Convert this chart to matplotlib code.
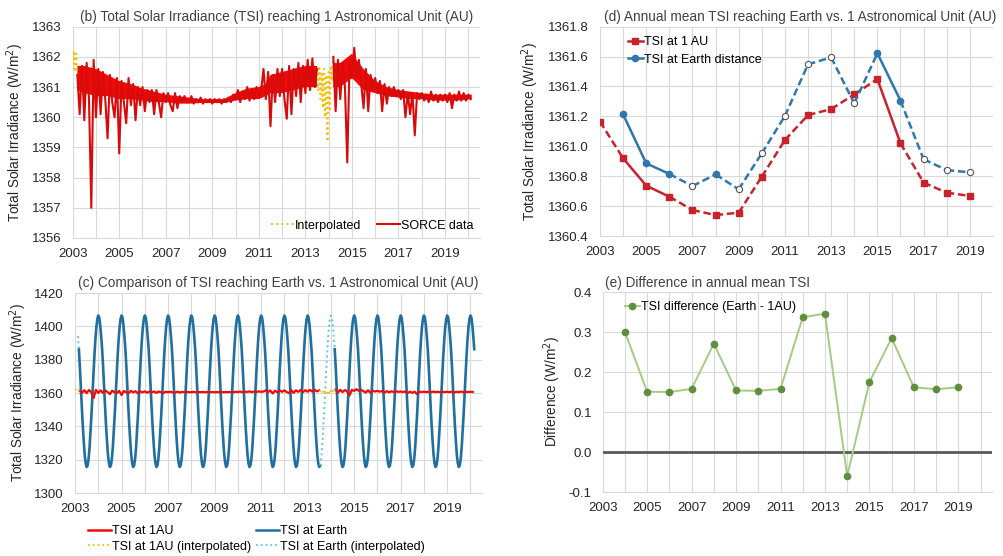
import numpy as np
import matplotlib.pyplot as plt
from matplotlib.lines import Line2D

plt.rcParams['font.family'] = ['Liberation Sans', 'DejaVu Sans']
plt.rcParams['axes.unicode_minus'] = False

# (b)/(c) SORCE TSI at 1 AU (W/m2), read every 0.1 yr starting at 2003.2, nan = data gap
sorce_start = 2003.2
sorce_tsi = [
    1361.4, 1360.1, 1361.7, 1359.9, 1361.8, 1360.6, 1357.0, 1361.9,
    1360.0, 1361.6, 1360.1, 1361.5, 1360.6, 1359.3, 1361.4, 1360.5, 1360.0, 1361.3,
    1358.8, 1361.2, 1360.5, 1359.8, 1361.3, 1360.4, 1361.1, 1359.9, 1361.0, 1360.4,
    1361.0, 1360.2, 1360.9, 1360.5, 1360.9, 1360.1, 1360.9, 1360.5, 1360.0, 1360.8,
    1360.5, 1360.8, 1360.4, 1360.2, 1360.8, 1360.3, 1360.7, 1360.5, 1360.7, 1360.5,
    1360.5, 1360.7, 1360.45, 1360.6, 1360.5, 1360.65, 1360.45, 1360.6, 1360.5, 1360.6,
    1360.45, 1360.6, 1360.5, 1360.6, 1360.45, 1360.6, 1360.5, 1360.65, 1360.5, 1360.75,
    1360.6, 1360.9, 1360.5, 1360.85, 1360.6, 1361.0, 1360.55, 1360.9, 1360.6, 1361.0,
    1360.7, 1360.9, 1361.6, 1360.6, 1361.5, 1359.7, 1361.4, 1360.5, 1361.6, 1360.7,
    1361.6, 1360.6, 1359.95, 1361.7, 1360.1, 1361.6, 1360.7, 1361.8, 1360.5, 1361.7,
    1360.8, 1361.9, 1360.9, 1361.95, 1361.0, 1361.6, np.nan, np.nan, np.nan, np.nan,
    np.nan, np.nan, 1362.0, 1360.2, 1361.9, 1360.6, 1361.8, 1361.0, 1358.5, 1361.9,
    1361.3, 1362.3, 1361.3, 1361.9, 1361.1, 1360.3, 1361.6, 1360.2, 1361.4, 1360.9,
    1361.3, 1360.8, 1361.2, 1360.2, 1361.1, 1360.45, 1361.0, 1360.7, 1361.0, 1360.7,
    1360.9, 1360.6, 1360.9, 1360.0, 1360.8, 1360.1, 1360.8, 1359.4, 1360.8, 1360.6,
    1360.8, 1360.55, 1360.75, 1360.5, 1360.85, 1360.55, 1360.75, 1360.5, 1360.75, 1360.55,
    1360.75, 1360.5, 1360.8, 1360.3, 1360.75, 1360.55, 1360.85, 1360.55, 1360.8, 1360.55,
    1360.75, 1360.6,
]

# dense core of the daily SORCE series (read as lower / upper edge of the red band)
band_t = [2003.2, 2003.5, 2004.0, 2004.5, 2005.0, 2005.5, 2006.0, 2006.5, 2007.0, 2007.5,
          2008.0, 2008.5, 2009.0, 2009.5, 2010.0, 2010.5, 2011.0, 2011.3, 2011.5, 2012.0,
          2012.5, 2013.0, 2013.5, 2013.8, 2014.2, 2014.5, 2015.0, 2015.5, 2016.0, 2016.5,
          2017.0, 2017.5, 2018.0, 2018.5, 2019.0, 2019.5, 2020.15]
band_lo = [1360.9, 1360.8, 1360.7, 1360.7, 1360.6, 1360.6, 1360.55, 1360.5, 1360.5, 1360.45,
           1360.45, 1360.47, 1360.47, 1360.47, 1360.55, 1360.6, 1360.6, 1360.7, 1360.8, 1360.8,
           1360.9, 1361.0, 1361.0, np.nan, 1361.0, 1361.0, 1361.3, 1360.9, 1360.8, 1360.7,
           1360.65, 1360.6, 1360.6, 1360.55, 1360.55, 1360.55, 1360.6]
band_hi = [1361.7, 1361.7, 1361.6, 1361.4, 1361.2, 1361.1, 1360.95, 1360.85, 1360.75, 1360.7,
           1360.65, 1360.6, 1360.6, 1360.6, 1360.8, 1360.95, 1361.0, 1361.1, 1361.4, 1361.5,
           1361.6, 1361.7, 1361.7, np.nan, 1361.8, 1361.8, 1362.1, 1361.6, 1361.2, 1361.0,
           1360.9, 1360.85, 1360.8, 1360.75, 1360.75, 1360.75, 1360.75]

# interpolated pieces of the 1 AU series
interp_t = [2003.0, 2003.05, 2003.1, 2003.15, 2003.2, np.nan,
            2013.5, 2013.55, 2013.6, 2013.65, 2013.7, 2013.75, 2013.8, 2013.85,
            2013.9, 2013.95, 2014.0, 2014.05, 2014.1, 2014.15, 2014.2]
interp_v = [1361.6, 1362.2, 1361.5, 1362.1, 1361.4, np.nan,
            1361.6, 1360.9, 1361.7, 1360.6, 1361.5, 1360.3, 1361.6, 1360.0,
            1361.4, 1359.2, 1361.5, 1360.2, 1361.7, 1361.2, 1362.0]

# TSI at Earth distance through one year (1st and 16th of each month)
earth_profile = [1406.5, 1405.4, 1400.9, 1394.1, 1386.3, 1375.8, 1363.6, 1351.9,
                 1340.8, 1331.2, 1323.0, 1317.9, 1315.6, 1316.5, 1320.4, 1327.1,
                 1336.6, 1347.1, 1358.7, 1370.4, 1382.1, 1391.7, 1399.3, 1404.3]
earth_first = 2003.12
earth_last = 2020.17
earth_gaps = [(2003.0, 2003.15), (2013.55, 2014.13)]

# (d) annual means
years_au = list(range(2003, 2020))
tsi_au_annual = [1361.165, 1360.92, 1360.737, 1360.663, 1360.574, 1360.54, 1360.556,
                 1360.797, 1361.042, 1361.209, 1361.249, 1361.347, 1361.45, 1361.02,
                 1360.757, 1360.69, 1360.668]
years_earth = list(range(2004, 2020))
tsi_earth_annual = [1361.214, 1360.886, 1360.815, 1360.734, 1360.812, 1360.712, 1360.953,
                    1361.203, 1361.548, 1361.595, 1361.287, 1361.622, 1361.305, 1360.913,
                    1360.841, 1360.826]
earth_full_years = [2004, 2005, 2006, 2008, 2015, 2016]

# (e) difference Earth - 1AU
diff_annual = [0.30, 0.151, 0.150, 0.158, 0.271, 0.154, 0.153, 0.158, 0.337, 0.346,
               -0.06, 0.175, 0.285, 0.162, 0.157, 0.162]

# segment styles (True = solid)
au_solid = [False, True, True] + [False] * 9 + [True] + [False] * 3
earth_solid = [True, True] + [False] * 9 + [True] + [False] * 3

RED = '#F00A0A'
LRED = '#D80A0A'
GOLD = '#F5C000'
DRED = '#C8232C'
BLUE = '#2E78B0'
CBLUE = '#1F6F9F'
CYAN = '#5BC8E0'
GREEN = '#A3CC82'
DGREEN = '#5E8E3E'
TXT = '#404040'
GRID = '#D9D9D9'
TFS = 9.8


def style(ax, xmax):
    ax.set_xlim(2003, xmax)
    ax.set_xticks(range(2003, 2020, 2))
    ax.set_xticks(range(2004, int(xmax) + 1, 2), minor=True)
    ax.grid(which='both', color=GRID, lw=0.8)
    ax.set_axisbelow(True)
    for s in ['top', 'right', 'left']:
        ax.spines[s].set_visible(False)
    ax.spines['bottom'].set_color(GRID)
    ax.tick_params(which='both', length=0, labelsize=9.5, colors='#262626')
    ax.tick_params(axis='x', pad=7)
    ax.tick_params(axis='y', pad=8)


sorce_t = sorce_start + 0.1 * np.arange(len(sorce_tsi))
sorce_v = np.array(sorce_tsi)

n_earth = int(round((earth_last - 2003) * 24)) + 1
earth_t = 2003 + np.arange(n_earth) / 24
earth_v = np.tile(earth_profile, 18)[:n_earth]
in_gap = np.zeros(n_earth, bool)
near_gap = np.zeros(n_earth, bool)
for a, b in earth_gaps:
    in_gap |= (earth_t >= a) & (earth_t <= b)
    near_gap |= (earth_t >= a - 1 / 24) & (earth_t <= b + 1 / 24)
keep = earth_t >= earth_first
earth_obs = np.where(~in_gap & keep, earth_v, np.nan)
earth_int = np.where(near_gap & keep, earth_v, np.nan)

fig = plt.figure(figsize=(10.04, 5.56), dpi=100)
ax_b = fig.add_axes([0.0724, 0.572, 0.4056, 0.380])
ax_d = fig.add_axes([0.5976, 0.5755, 0.3914, 0.3765])
ax_c = fig.add_axes([0.0747, 0.1133, 0.4054, 0.3597])
ax_e = fig.add_axes([0.6003, 0.115, 0.3874, 0.3597])

# (b)
style(ax_b, 2020.5)
ax_b.plot(interp_t, interp_v, color=GOLD, lw=1.4, ls=':', label='Interpolated')
ax_b.fill_between(band_t, band_lo, band_hi, color=RED, lw=0)
ax_b.plot(sorce_t, sorce_v, color=LRED, lw=1.5, label='SORCE data')
ax_b.set_ylim(1356, 1363)
ax_b.set_yticks(range(1356, 1364))
ax_b.set_ylabel('Total Solar Irradiance (W/m$^2$)', fontsize=9.8, color='#262626', labelpad=4)
ax_b.set_title('(b) Total Solar Irradiance (TSI) reaching 1 Astronomical Unit (AU)',
               fontsize=TFS, color=TXT, pad=4)
ax_b.legend(loc='lower right', ncol=2, frameon=False, fontsize=9, handlelength=1.8,
            handletextpad=0.1, columnspacing=1.3, borderaxespad=0.1)

# (c)
style(ax_c, 2020.5)
ax_c.plot(earth_t, earth_obs, color=CBLUE, lw=1.9, label='TSI at Earth')
ax_c.plot(earth_t, earth_int, color=CYAN, lw=1.4, ls=':', label='TSI at Earth (interpolated)')
ax_c.plot(sorce_t, sorce_v, color=RED, lw=1.6, label='TSI at 1AU')
ax_c.plot(interp_t, interp_v, color=GOLD, lw=1.3, ls=':', label='TSI at 1AU (interpolated)')
ax_c.set_ylim(1300, 1420)
ax_c.set_yticks(range(1300, 1421, 20))
ax_c.set_ylabel('Total Solar Irradiance (W/m$^2$)', fontsize=9.8, color='#262626', labelpad=4)
ax_c.set_title('(c) Comparison of TSI reaching Earth vs. 1 Astronomical Unit (AU)',
               fontsize=TFS, color=TXT, pad=4)
h = [Line2D([], [], color=RED, lw=1.8), Line2D([], [], color=GOLD, lw=1.3, ls=':'),
     Line2D([], [], color=CBLUE, lw=1.8), Line2D([], [], color=CYAN, lw=1.3, ls=':')]
ax_c.legend(h, ['TSI at 1AU', 'TSI at 1AU (interpolated)', 'TSI at Earth',
                'TSI at Earth (interpolated)'],
            loc='upper left', bbox_to_anchor=(0.02, -0.135), ncol=2, frameon=False,
            fontsize=9, handlelength=1.8, handletextpad=0.1, columnspacing=0.4,
            labelspacing=0.3, borderaxespad=0)

# (d)
style(ax_d, 2020)
for i in range(len(years_au) - 1):
    ax_d.plot(years_au[i:i + 2], tsi_au_annual[i:i + 2], color=DRED, lw=1.8,
              ls='-' if au_solid[i] else (0, (3, 1.5)))
ax_d.plot(years_au, tsi_au_annual, ls='none', marker='s', ms=4.5, color=DRED)
for i in range(len(years_earth) - 1):
    ax_d.plot(years_earth[i:i + 2], tsi_earth_annual[i:i + 2], color=BLUE, lw=1.8,
              ls='-' if earth_solid[i] else (0, (3, 1.5)))
for yr, v in zip(years_earth, tsi_earth_annual):
    if yr in earth_full_years:
        ax_d.plot(yr, v, ls='none', marker='o', ms=4.5, color=BLUE)
    else:
        ax_d.plot(yr, v, ls='none', marker='o', ms=4.5, mfc='white', mec='#555555', mew=0.8)
ax_d.set_ylim(1360.4, 1361.8)
ax_d.set_yticks(np.arange(1360.4, 1361.81, 0.2))
ax_d.yaxis.set_major_formatter('{x:.1f}')
ax_d.set_ylabel('Total Solar Irradiance (W/m$^2$)', fontsize=9.8, color='#262626', labelpad=5)
ax_d.set_title('(d) Annual mean TSI reaching Earth vs. 1 Astronomical Unit (AU)',
               fontsize=TFS, color=TXT, pad=4, x=0.51)
h = [Line2D([], [], color=DRED, lw=1.8, marker='s', ms=4.5),
     Line2D([], [], color=BLUE, lw=1.8, marker='o', ms=4.5)]
ax_d.legend(h, ['TSI at 1 AU', 'TSI at Earth distance'], loc='upper left',
            bbox_to_anchor=(0.055, 0.985), frameon=False, fontsize=9, handlelength=1.2,
            handletextpad=0.1, labelspacing=0.45, borderaxespad=0.1)

# (e)
style(ax_e, 2020.5)
ax_e.axhline(0, color='#595959', lw=2)
ax_e.plot(years_earth, diff_annual, color=GREEN, lw=1.4, marker='o', ms=4.5,
          mfc=DGREEN, mec=DGREEN, label='TSI difference (Earth - 1AU)')
ax_e.set_ylim(-0.1, 0.4)
ax_e.set_yticks(np.arange(-0.1, 0.41, 0.1))
ax_e.yaxis.set_major_formatter('{x:.1f}')
ax_e.set_ylabel('Difference (W/m$^2$)', fontsize=9.8, color='#262626', labelpad=4)
ax_e.set_title('(e) Difference in annual mean TSI', fontsize=TFS, color=TXT, pad=4,
               loc='left', x=0.005)
ax_e.legend(loc='upper left', bbox_to_anchor=(0.04, 0.985), frameon=False, fontsize=9,
            handlelength=1.2, handletextpad=0.1, borderaxespad=0.1)

fig.savefig('out.png', dpi=100, facecolor='white')
